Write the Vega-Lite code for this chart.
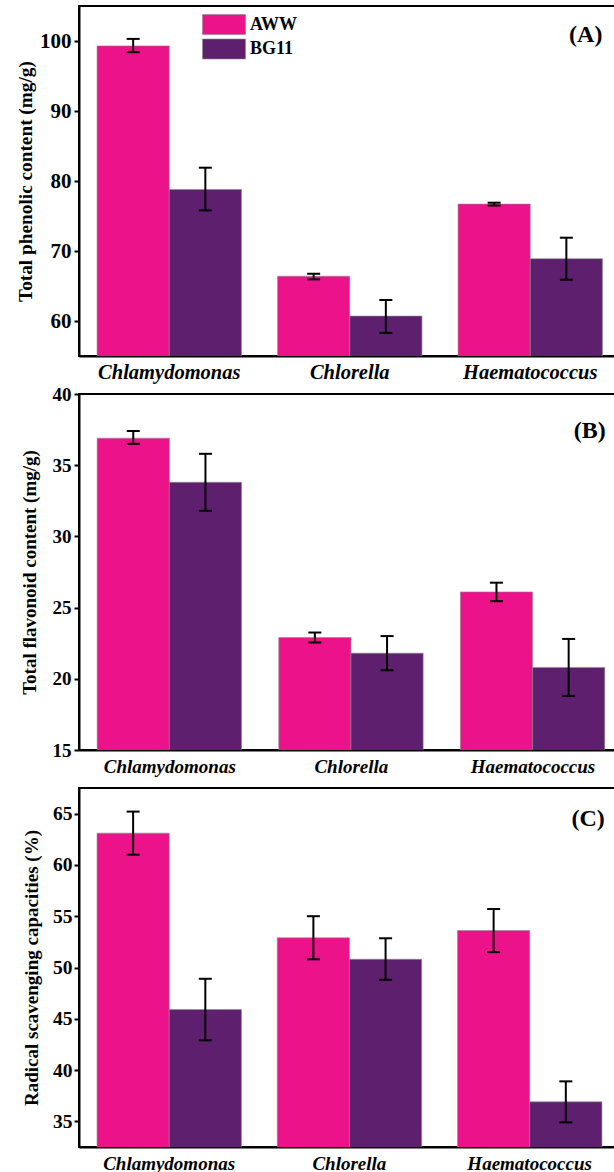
{
  "$schema": "https://vega.github.io/schema/vega-lite/v6.json",
  "padding": {"left": 15, "top": 5, "right": 0, "bottom": 0},
  "background": "white",
  "spacing": 38,
  "bounds": "flush",
  "resolve": {"legend": {"color": "independent"}},
  "config": {
    "font": "Liberation Serif",
    "view": {"stroke": "black", "strokeWidth": 2},
    "axis": {
      "domainColor": "black", "domainWidth": 2, "tickColor": "black", "tickWidth": 2, "tickSize": 5,
      "labelFont": "Liberation Serif", "labelFontWeight": "bold", "labelColor": "black",
      "titleFont": "Liberation Serif", "titleFontWeight": "bold", "titleColor": "black",
      "grid": false
    },
    "axisX": {"ticks": false, "labelFontStyle": "italic", "labelAngle": 0, "title": null}
  },
  "datasets": {
    "A": [
      {"species": "Chlamydomonas", "medium": "AWW", "value": 99.3, "lo": 98.4, "hi": 100.3},
      {"species": "Chlamydomonas", "medium": "BG11", "value": 78.8, "lo": 75.8, "hi": 81.9},
      {"species": "Chlorella", "medium": "AWW", "value": 66.4, "lo": 65.95, "hi": 66.75},
      {"species": "Chlorella", "medium": "BG11", "value": 60.7, "lo": 58.3, "hi": 63.0},
      {"species": "Haematococcus", "medium": "AWW", "value": 76.7, "lo": 76.5, "hi": 76.9},
      {"species": "Haematococcus", "medium": "BG11", "value": 68.9, "lo": 65.9, "hi": 71.9}
    ],
    "B": [
      {"species": "Chlamydomonas", "medium": "AWW", "value": 36.9, "lo": 36.5, "hi": 37.4},
      {"species": "Chlamydomonas", "medium": "BG11", "value": 33.8, "lo": 31.8, "hi": 35.8},
      {"species": "Chlorella", "medium": "AWW", "value": 22.9, "lo": 22.55, "hi": 23.25},
      {"species": "Chlorella", "medium": "BG11", "value": 21.8, "lo": 20.6, "hi": 23.0},
      {"species": "Haematococcus", "medium": "AWW", "value": 26.1, "lo": 25.45, "hi": 26.75},
      {"species": "Haematococcus", "medium": "BG11", "value": 20.8, "lo": 18.8, "hi": 22.8}
    ],
    "C": [
      {"species": "Chlamydomonas", "medium": "AWW", "value": 63.1, "lo": 61.0, "hi": 65.2},
      {"species": "Chlamydomonas", "medium": "BG11", "value": 45.9, "lo": 42.9, "hi": 48.9},
      {"species": "Chlorella", "medium": "AWW", "value": 52.9, "lo": 50.8, "hi": 55.0},
      {"species": "Chlorella", "medium": "BG11", "value": 50.8, "lo": 48.8, "hi": 52.85},
      {"species": "Haematococcus", "medium": "AWW", "value": 53.6, "lo": 51.5, "hi": 55.7},
      {"species": "Haematococcus", "medium": "BG11", "value": 36.9, "lo": 34.9, "hi": 38.9}
    ]
  },
  "vconcat": [
    {
      "width": 541.5, "height": 350,
      "data": {"name": "A"},
      "encoding": {
        "x": {"field": "species", "type": "nominal", "sort": ["Chlamydomonas", "Chlorella", "Haematococcus"], "scale": {"paddingInner": 0.2, "paddingOuter": 0.1}, "axis": {"labelFontSize": 20.5, "labelFontStyle": "italic", "labelPadding": 6, "ticks": false, "title": null}},
        "y": {"type": "quantitative", "scale": {"domain": [55, 105], "zero": false, "nice": false}, "axis": {"title": "Total phenolic content (mg/g)", "values": [60, 70, 80, 90, 100], "titlePadding": 4, "labelFontSize": 21, "titleFontSize": 19.3, "labelPadding": 3}}
      },
      "layer": [
        {
          "mark": {"type": "bar", "stroke": "#8c8c8c", "strokeWidth": 0.6, "clip": true},
          "encoding": {
            "xOffset": {"field": "medium", "type": "nominal", "scale": {"paddingInner": 0, "paddingOuter": 0}},
            "y": {"field": "value", "type": "quantitative", "scale": {"domain": [55, 105], "zero": false, "nice": false}, "axis": {"title": "Total phenolic content (mg/g)", "values": [60, 70, 80, 90, 100], "titlePadding": 4, "labelFontSize": 21, "titleFontSize": 19.3, "labelPadding": 3}},
            "color": {"field": "medium", "type": "nominal", "scale": {"domain": ["AWW", "BG11"], "range": ["#EC1289", "#5E1F6E"]},
              "legend": {"title": null, "orient": "none", "legendX": 134.5, "legendY": 8, "padding": 0,
                "symbolType": "M-2.15,-1H2.15V1H-2.15Z", "symbolSize": 400, "symbolStrokeColor": "#8c8c8c", "symbolStrokeWidth": 0.6, "symbolOpacity": 1,
                "labelFont": "Liberation Serif", "labelFontWeight": "bold", "labelFontSize": 18, "labelColor": "black", "labelOffset": 15.5, "rowPadding": 1.5}}
          }
        },
        {
          "mark": {"type": "rule", "color": "black", "strokeWidth": 2},
          "encoding": {
            "xOffset": {"field": "medium", "type": "nominal"},
            "y": {"field": "lo", "type": "quantitative", "scale": {"domain": [55, 105], "zero": false, "nice": false}},
            "y2": {"field": "hi"}
          }
        },
        {
          "mark": {"type": "tick", "orient": "horizontal", "color": "black", "thickness": 2, "size": 13, "opacity": 1},
          "encoding": {
            "xOffset": {"field": "medium", "type": "nominal"},
            "y": {"field": "lo", "type": "quantitative", "scale": {"domain": [55, 105], "zero": false, "nice": false}}
          }
        },
        {
          "mark": {"type": "tick", "orient": "horizontal", "color": "black", "thickness": 2, "size": 13, "opacity": 1},
          "encoding": {
            "xOffset": {"field": "medium", "type": "nominal"},
            "y": {"field": "hi", "type": "quantitative", "scale": {"domain": [55, 105], "zero": false, "nice": false}}
          }
        },
        {
          "data": {"values": [{"label": "(A)"}]},
          "mark": {"type": "text", "align": "right", "baseline": "middle", "font": "Liberation Serif", "fontWeight": "bold", "fontSize": 24, "color": "black"},
          "encoding": {
            "x": {"datum": "Haematococcus", "type": "nominal", "bandPosition": 1},
            "y": {"datum": 100.8, "type": "quantitative", "scale": {"domain": [55, 105], "zero": false, "nice": false}},
            "text": {"field": "label"}
          }
        }
      ]
    },
    {
      "width": 544.8, "height": 356,
      "data": {"name": "B"},
      "encoding": {
        "x": {"field": "species", "type": "nominal", "sort": ["Chlamydomonas", "Chlorella", "Haematococcus"], "scale": {"paddingInner": 0.2, "paddingOuter": 0.1}, "axis": {"labelFontSize": 19, "labelFontStyle": "italic", "labelPadding": 7, "ticks": false, "title": null}},
        "y": {"type": "quantitative", "scale": {"domain": [15, 40], "zero": false, "nice": false}, "axis": {"title": "Total flavonoid content (mg/g)", "values": [15, 20, 25, 30, 35, 40], "titlePadding": 13, "labelFontSize": 19, "titleFontSize": 19, "labelPadding": 3}}
      },
      "layer": [
        {
          "mark": {"type": "bar", "stroke": "#8c8c8c", "strokeWidth": 0.6, "clip": true},
          "encoding": {
            "xOffset": {"field": "medium", "type": "nominal", "scale": {"paddingInner": 0, "paddingOuter": 0}},
            "y": {"field": "value", "type": "quantitative", "scale": {"domain": [15, 40], "zero": false, "nice": false}, "axis": {"title": "Total flavonoid content (mg/g)", "values": [15, 20, 25, 30, 35, 40], "titlePadding": 13, "labelFontSize": 19, "titleFontSize": 19, "labelPadding": 3}},
            "color": {"field": "medium", "type": "nominal", "scale": {"domain": ["AWW", "BG11"], "range": ["#EC1289", "#5E1F6E"]}, "legend": null}
          }
        },
        {
          "mark": {"type": "rule", "color": "black", "strokeWidth": 2},
          "encoding": {
            "xOffset": {"field": "medium", "type": "nominal"},
            "y": {"field": "lo", "type": "quantitative", "scale": {"domain": [15, 40], "zero": false, "nice": false}},
            "y2": {"field": "hi"}
          }
        },
        {
          "mark": {"type": "tick", "orient": "horizontal", "color": "black", "thickness": 2, "size": 13, "opacity": 1},
          "encoding": {
            "xOffset": {"field": "medium", "type": "nominal"},
            "y": {"field": "lo", "type": "quantitative", "scale": {"domain": [15, 40], "zero": false, "nice": false}}
          }
        },
        {
          "mark": {"type": "tick", "orient": "horizontal", "color": "black", "thickness": 2, "size": 13, "opacity": 1},
          "encoding": {
            "xOffset": {"field": "medium", "type": "nominal"},
            "y": {"field": "hi", "type": "quantitative", "scale": {"domain": [15, 40], "zero": false, "nice": false}}
          }
        },
        {
          "data": {"values": [{"label": "(B)"}]},
          "mark": {"type": "text", "align": "right", "baseline": "middle", "font": "Liberation Serif", "fontWeight": "bold", "fontSize": 24, "color": "black"},
          "encoding": {
            "x": {"datum": "Haematococcus", "type": "nominal", "bandPosition": 1},
            "y": {"datum": 37.42, "type": "quantitative", "scale": {"domain": [15, 40], "zero": false, "nice": false}},
            "text": {"field": "label"}
          }
        }
      ]
    },
    {
      "width": 540.75, "height": 359,
      "data": {"name": "C"},
      "encoding": {
        "x": {"field": "species", "type": "nominal", "sort": ["Chlamydomonas", "Chlorella", "Haematococcus"], "scale": {"paddingInner": 0.2, "paddingOuter": 0.1}, "axis": {"labelFontSize": 19, "labelFontStyle": "italic", "labelPadding": 7, "ticks": false, "title": null}},
        "y": {"type": "quantitative", "scale": {"domain": [32.5, 67.5], "zero": false, "nice": false}, "axis": {"title": "Radical scavenging capacities (%)", "values": [35, 40, 45, 50, 55, 60, 65], "titlePadding": 11, "labelFontSize": 19.5, "titleFontSize": 19, "labelPadding": 2}}
      },
      "layer": [
        {
          "mark": {"type": "bar", "stroke": "#8c8c8c", "strokeWidth": 0.6, "clip": true},
          "encoding": {
            "xOffset": {"field": "medium", "type": "nominal", "scale": {"paddingInner": 0, "paddingOuter": 0}},
            "y": {"field": "value", "type": "quantitative", "scale": {"domain": [32.5, 67.5], "zero": false, "nice": false}, "axis": {"title": "Radical scavenging capacities (%)", "values": [35, 40, 45, 50, 55, 60, 65], "titlePadding": 11, "labelFontSize": 19.5, "titleFontSize": 19, "labelPadding": 2}},
            "color": {"field": "medium", "type": "nominal", "scale": {"domain": ["AWW", "BG11"], "range": ["#EC1289", "#5E1F6E"]}, "legend": null}
          }
        },
        {
          "mark": {"type": "rule", "color": "black", "strokeWidth": 2},
          "encoding": {
            "xOffset": {"field": "medium", "type": "nominal"},
            "y": {"field": "lo", "type": "quantitative", "scale": {"domain": [32.5, 67.5], "zero": false, "nice": false}},
            "y2": {"field": "hi"}
          }
        },
        {
          "mark": {"type": "tick", "orient": "horizontal", "color": "black", "thickness": 2, "size": 13, "opacity": 1},
          "encoding": {
            "xOffset": {"field": "medium", "type": "nominal"},
            "y": {"field": "lo", "type": "quantitative", "scale": {"domain": [32.5, 67.5], "zero": false, "nice": false}}
          }
        },
        {
          "mark": {"type": "tick", "orient": "horizontal", "color": "black", "thickness": 2, "size": 13, "opacity": 1},
          "encoding": {
            "xOffset": {"field": "medium", "type": "nominal"},
            "y": {"field": "hi", "type": "quantitative", "scale": {"domain": [32.5, 67.5], "zero": false, "nice": false}}
          }
        },
        {
          "data": {"values": [{"label": "(C)"}]},
          "mark": {"type": "text", "align": "right", "baseline": "middle", "font": "Liberation Serif", "fontWeight": "bold", "fontSize": 24, "color": "black", "dx": 3},
          "encoding": {
            "x": {"datum": "Haematococcus", "type": "nominal", "bandPosition": 1},
            "y": {"datum": 64.5, "type": "quantitative", "scale": {"domain": [32.5, 67.5], "zero": false, "nice": false}},
            "text": {"field": "label"}
          }
        }
      ]
    }
  ]
}
